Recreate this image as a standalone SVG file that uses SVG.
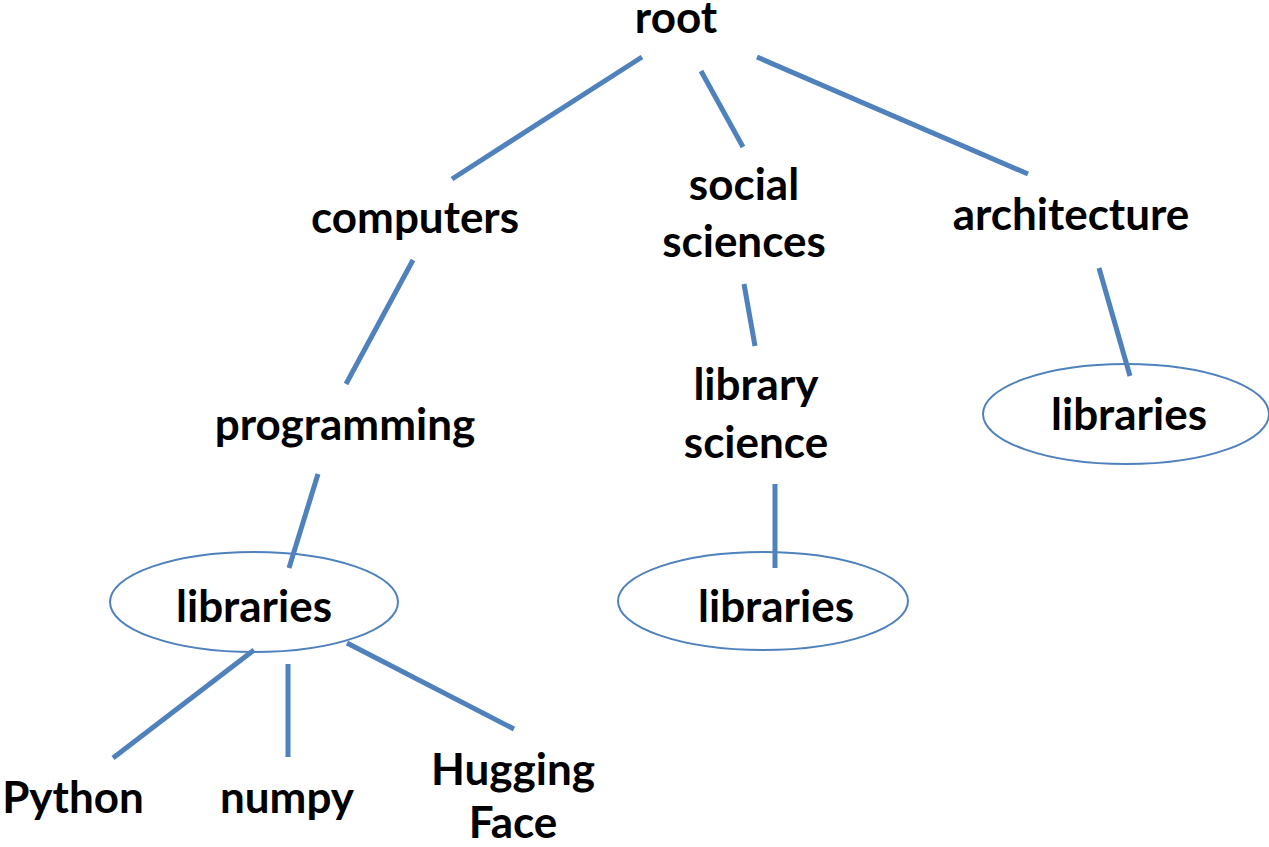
<svg xmlns="http://www.w3.org/2000/svg" width="1269" height="847" viewBox="0 0 1269 847">
<style>
text{font-family:Lato,"Liberation Sans",sans-serif;font-weight:bold;font-size:44px;fill:#000;text-anchor:middle}
.c line{stroke:#4F81BD;stroke-width:5}
ellipse{fill:none;stroke:#4F81BD;stroke-width:2}
</style>
<rect width="1269" height="847" fill="#fff"/>
<g class="c" id="connectors">
<line x1="642" y1="57" x2="452" y2="179"/>
<line x1="701" y1="71" x2="743" y2="147"/>
<line x1="757" y1="57" x2="1028" y2="174"/>
<line x1="413" y1="260" x2="346" y2="384"/>
<line x1="744" y1="284" x2="755" y2="346"/>
<line x1="1099" y1="268" x2="1130" y2="376"/>
<line x1="318" y1="474" x2="289" y2="568"/>
<line x1="775" y1="484" x2="775" y2="568"/>
<line x1="254" y1="650" x2="113" y2="758"/>
<line x1="288" y1="664" x2="288" y2="757"/>
<line x1="347" y1="643" x2="514" y2="729"/>
</g>
<g id="root"><text x="676" y="33">root</text></g>
<g id="computers"><text x="415" y="233">computers</text></g>
<g id="social-sciences"><text x="744" y="200">social</text><text x="744" y="257">sciences</text></g>
<g id="architecture"><text x="1071" y="230">architecture</text></g>
<g id="programming"><text x="345" y="440">programming</text></g>
<g id="library-science"><text x="756" y="400">library</text><text x="756" y="458">science</text></g>
<g id="libraries-arch"><ellipse cx="1126" cy="414" rx="143" ry="50"/><text x="1129" y="430">libraries</text></g>
<g id="libraries-prog"><ellipse cx="254" cy="602" rx="144" ry="50"/><text x="254" y="622">libraries</text></g>
<g id="libraries-lib"><ellipse cx="763" cy="601" rx="145" ry="49"/><text x="776" y="622">libraries</text></g>
<g id="python"><text x="73" y="813">Python</text></g>
<g id="numpy"><text x="287" y="813">numpy</text></g>
<g id="hugging-face"><text x="513" y="785">Hugging</text><text x="513" y="838">Face</text></g>
</svg>
